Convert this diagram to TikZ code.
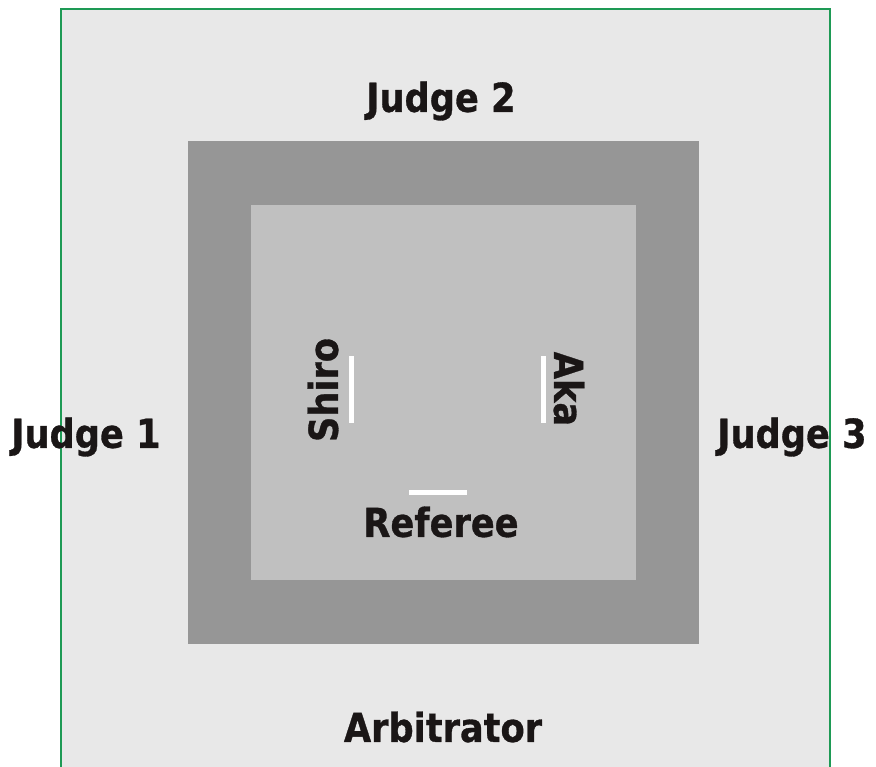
\documentclass[tikz,border=0pt]{standalone}
\usepackage{fontspec}
\newfontfamily\matfont[FakeStretch=0.88,FakeBold=0.8]{DejaVu Sans}
\usepackage{xcolor}
\definecolor{cOuter}{HTML}{E8E8E8}
\definecolor{cMat}{HTML}{969696}
\definecolor{cArea}{HTML}{C0C0C0}
\definecolor{cEdge}{HTML}{1E9A55}
\definecolor{cText}{HTML}{1A1616}
\usepackage{tikz}
\usetikzlibrary{positioning}
\tikzset{
  role/.style={font=\matfont\bfseries\fontsize{40}{40}\selectfont,text=cText,inner sep=0pt},
  line-start/.style={draw=white,line width=5pt},
}
\begin{document}
\begin{tikzpicture}[x=1pt,y=-1pt]
  \useasboundingbox (0,0) rectangle (876,767);
  % zones
  \fill[cOuter] (61,9) rectangle (830,767);
  \draw[cEdge,line width=1.2pt] (61,767) -- (61,9) -- (830,9) -- (830,767);
  \fill[cMat] (188,141) rectangle (699,644);
  \fill[cArea] (251,205) rectangle (636,580);
  % officials
  \node[role] (j2) at (441,101) {Judge 2};
  \node[role] (j1) at (86,437) {Judge 1};
  \node[role] (j3) at (792,437) {Judge 3};
  \node[role] (arb) at (443,727) {Arbitrator};
  \node[role] (ref) at (441,522) {Referee};
  \node[role,rotate=90] (shiro) at (323,390) {Shiro};
  \node[role,rotate=-90] (aka) at (569,389) {Aka};
  % start lines
  \coordinate (s1) at (351.5,356);
  \coordinate (s2) at (351.5,423);
  \coordinate (a1) at (543,356);
  \coordinate (a2) at (543,423);
  \coordinate (r1) at (409,492);
  \coordinate (r2) at (467,492);
  \draw[line-start] (s1) -- (s2);
  \draw[line-start] (a1) -- (a2);
  \draw[line-start] (r1) -- (r2);
\end{tikzpicture}
\end{document}
